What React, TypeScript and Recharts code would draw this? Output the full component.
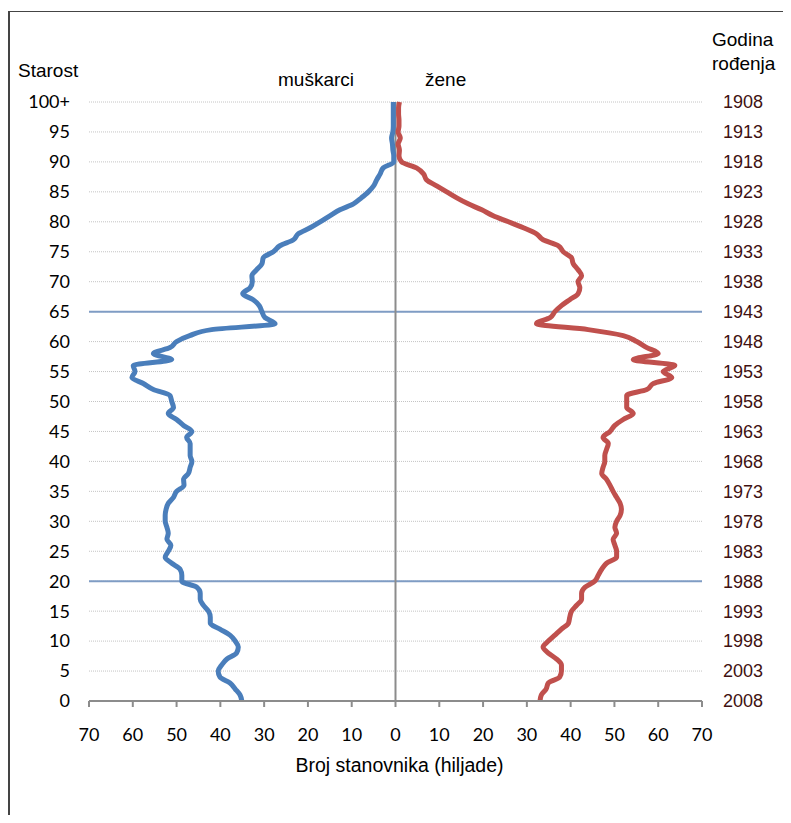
import {
  CartesianGrid,
  ComposedChart,
  Line,
  ReferenceLine,
  XAxis,
  YAxis
} from "recharts";

// age 0 .. 100+, population in thousands
const ages = Array.from({ length: 101 }, (_, i) => i);

const men = [
  35.1, 35.5, 36.6, 37.8, 40.1, 40.5, 39.7, 38.5, 36.3, 35.9,
  36.6, 37.8, 40.1, 42.3, 42.3, 42.7, 43.9, 44.6, 44.6, 45.4,
  48.8, 48.8, 49.2, 51.1, 52.6, 51.9, 51.3, 52.2, 51.9, 52.2,
  52.6, 52.6, 52.4, 51.9, 50.7, 50.0, 48.3, 48.4, 47.3, 46.9,
  46.5, 46.9, 46.9, 46.9, 47.7, 46.5, 48.4, 50.0, 51.9, 50.7,
  51.1, 51.5, 55.3, 57.6, 60.2, 59.5, 59.9, 51.1, 55.3, 51.5,
  50.0, 47.0, 42.0, 27.5, 29.8, 30.5, 31.1, 32.5, 34.9, 33.2,
  32.7, 32.8, 31.7, 30.5, 30.2, 27.9, 26.4, 23.3, 22.2, 19.5,
  17.2, 15.0, 12.7, 9.6, 7.8, 6.2, 5.0, 4.3, 3.5, 2.8,
  0.4, 0.4, 0.6, 0.7, 0.9, 0.6, 0.5, 0.5, 0.5, 0.5,
  0.5
];

const women = [
  33.0, 33.3, 34.4, 34.9, 37.5, 37.9, 37.9, 36.8, 34.9, 33.7,
  34.9, 36.4, 37.9, 39.5, 39.8, 40.2, 41.4, 42.5, 42.5, 43.3,
  45.5, 46.3, 47.1, 48.2, 50.5, 50.5, 50.1, 49.7, 50.5, 50.1,
  50.5, 51.3, 51.6, 51.3, 50.5, 49.7, 49.0, 48.2, 47.1, 47.4,
  47.8, 47.8, 48.2, 48.6, 47.4, 49.0, 50.1, 52.0, 54.3, 52.8,
  52.8, 52.8, 57.4, 58.9, 63.1, 61.1, 63.8, 54.3, 60.0, 57.4,
  55.1, 52.0, 44.0, 32.2, 35.3, 36.4, 37.9, 39.8, 41.7, 42.1,
  41.7, 42.5, 41.7, 40.6, 40.2, 38.3, 37.2, 33.7, 32.2, 29.2,
  25.8, 22.3, 19.7, 16.6, 14.0, 11.7, 9.4, 7.1, 6.4, 4.8,
  1.4, 0.8, 0.9, 0.6, 1.1, 0.6, 0.8, 0.8, 0.7, 0.7,
  0.9
];

const ageTicks = [0, 5, 10, 15, 20, 25, 30, 35, 40, 45, 50, 55, 60, 65, 70, 75, 80, 85, 90, 95, 100];
const popTicks = [-70, -60, -50, -40, -30, -20, -10, 0, 10, 20, 30, 40, 50, 60, 70];
const censusYear = 2008;
const markerAges = [65, 20];

const data = ages.map((age, i) => ({ age, men: -men[i], women: women[i] }));

const label = { position: "absolute" as const, fontFamily: "'Liberation Sans', Arial, sans-serif", fontSize: 19, lineHeight: 1, color: "#000", whiteSpace: "nowrap" as const };

export default function App() {
  return (
    <div style={{ position: "relative", width: 783, height: 807 }}>
      <style>{`body{overflow:hidden}`}</style>
      <span style={{ ...label, left: 10, top: 53 }}>Starost</span>
      <span style={{ ...label, left: 270, top: 62 }}>muškarci</span>
      <span style={{ ...label, left: 417, top: 62 }}>žene</span>
      <div style={{ ...label, left: 704, top: 20, lineHeight: "24px" }}>
        Godina
        <br />
        rođenja
      </div>
      <ComposedChart
        width={783}
        height={800}
        data={data}
        layout="vertical"
        margin={{ top: 94, right: 19, bottom: 27, left: 21 }}
        style={{ position: "absolute", left: 0, top: 0 }}
      >
        <CartesianGrid horizontal vertical={false} stroke="#c4c4c4" strokeDasharray="1 1" />
        <XAxis
          type="number"
          dataKey="men"
          domain={[-70, 70]}
          ticks={popTicks}
          interval={0}
          tickFormatter={(v: number) => String(Math.abs(v))}
          tickSize={6}
          tickMargin={21}
          axisLine={{ stroke: "#8c8c8c", strokeWidth: 2 }}
          tickLine={{ stroke: "#8c8c8c", strokeWidth: 2 }}
          tick={{ fontSize: 18, fontFamily: "Lato, sans-serif", fill: "#000" }}
          height={80}
          label={{
            value: "Broj stanovnika (hiljade)",
            position: "insideBottom",
            offset: 9,
            dx: 4,
            style: { fontSize: 19.5, fontFamily: "'Liberation Sans', Arial, sans-serif", fill: "#000" }
          }}
        />
        <YAxis
          type="number"
          dataKey="age"
          domain={[0, 100]}
          reversed
          ticks={ageTicks}
          interval={0}
          width={60}
          tickFormatter={(v: number) => (v === 100 ? "100+" : String(v))}
          axisLine={false}
          tickLine={false}
          tickSize={0}
          tickMargin={19}
          tick={{ fontSize: 18, fontFamily: "Lato, sans-serif", fill: "#000" }}
        />
        <YAxis
          yAxisId="right"
          orientation="right"
          type="number"
          dataKey="age"
          domain={[0, 100]}
          reversed
          ticks={ageTicks}
          interval={0}
          width={70}
          tickFormatter={(v: number) => String(censusYear - v)}
          axisLine={false}
          tickLine={false}
          tickSize={0}
          tickMargin={21}
          tick={{ fontSize: 18, fontFamily: "'Liberation Sans', Arial, sans-serif", fill: "#3f1111" }}
        />
        {markerAges.map((a) => (
          <ReferenceLine key={a} y={a} stroke="#7f9cc4" strokeWidth={2} />
        ))}
        <ReferenceLine x={0} stroke="#8c8c8c" strokeWidth={2} />
        <Line
          type="monotone"
          dataKey="men"
          stroke="#4a7ebb"
          strokeWidth={5}
          dot={false}
          isAnimationActive={false}
        />
        <Line
          type="monotone"
          dataKey="women"
          stroke="#c0504d"
          strokeWidth={5}
          dot={false}
          isAnimationActive={false}
        />
      </ComposedChart>
      <div
        style={{
          position: "absolute",
          left: 0,
          top: 3,
          width: 783,
          height: 820,
          borderLeft: "2px solid #444",
          borderTop: "1.5px solid #444",
          boxSizing: "border-box",
          pointerEvents: "none"
        }}
      />
    </div>
  );
}
